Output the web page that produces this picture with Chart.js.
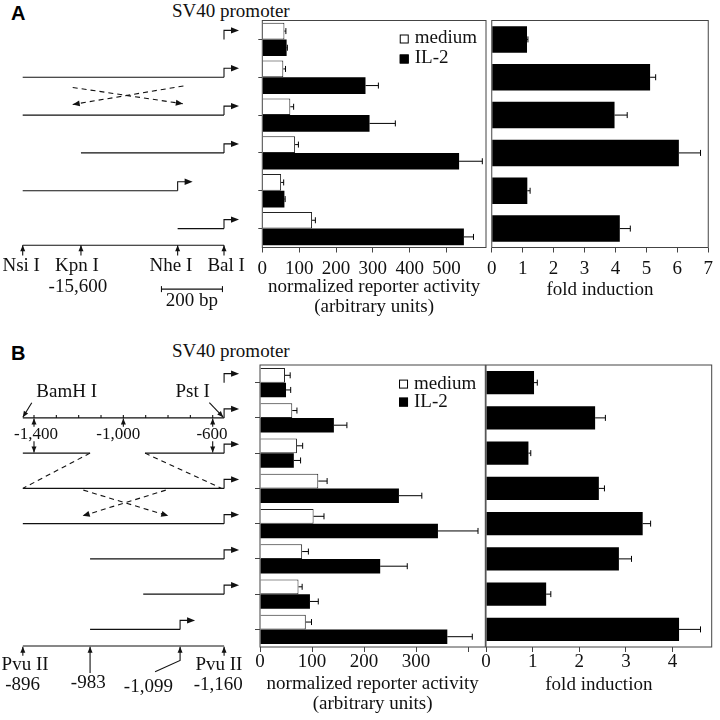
<!DOCTYPE html>
<html lang="en">
<head>
<meta charset="UTF-8">
<title>SV40 promoter reporter constructs</title>
<script src="https://cdn.jsdelivr.net/npm/chart.js"></script>
<style>
  body { margin: 0; background: #fff; }
  #fig { position: relative; width: 720px; height: 720px; overflow: hidden; }
  #fig canvas { position: absolute; }
  .lbl { position: absolute; font: 19px/19px "Liberation Serif", serif; color: #111; white-space: nowrap; }
  .panel { position: absolute; font: bold 20px/20px "Liberation Sans", Arial, sans-serif; color: #000; }
</style>
</head>
<body>
<div id="fig">
  <div class="panel" style="left:11px; top:3px">A</div>
  <div class="lbl" style="left:172px; top:1px">SV40 promoter</div>
  <canvas id="mapA" width="258" height="320" style="left:0; top:0"></canvas>
  <canvas id="actA" width="252" height="320" style="left:240px; top:0"></canvas>
  <canvas id="foldA" width="240" height="320" style="left:480px; top:0"></canvas>

  <div class="panel" style="left:11px; top:343px">B</div>
  <div class="lbl" style="left:172px; top:341px">SV40 promoter</div>
  <canvas id="mapB" width="258" height="380" style="left:0; top:340px"></canvas>
  <canvas id="actB" width="252" height="380" style="left:240px; top:340px"></canvas>
  <canvas id="foldB" width="240" height="380" style="left:480px; top:340px"></canvas>
</div>

<script>
const SERIF = '"Liberation Serif", "Times New Roman", serif';
const INK = '#111';
const FRAME = '#444';

// ---- panel A values ----
const rowsA = ['A1', 'A2', 'A3', 'A4', 'A5', 'A6'];
const mediumA = [60, 57, 76, 89, 51, 135];
const mediumErrA = [4, 6, 9, 9, 7, 9];
const il2A = [66, 280, 291, 534, 60, 547];
const il2ErrA = [2, 35, 70, 63, 2, 26];
const foldA = [1.14, 5.12, 3.97, 6.05, 1.15, 4.14];
const foldErrA = [0.03, 0.18, 0.41, 0.70, 0.09, 0.34];
const actTicksA = [0, 100, 200, 300, 400, 500];
const actLabelsA = ['0', '100', '200', '300', '400', '500'];
const foldTicksA = [0, 1, 2, 3, 4, 5, 6, 7];
const actMaxA = 607;
const foldMaxA = 7;

// ---- panel B values ----
const rowsB = ['B1', 'B2', 'B3', 'B4', 'B5', 'B6', 'B7', 'B8'];
const mediumB = [48, 62, 71, 112, 103, 81, 74, 88];
const mediumErrB = [10, 9, 11, 17, 20, 12, 7, 11];
const il2B = [50, 142, 65, 267, 342, 231, 96, 360];
const il2ErrB = [9, 25, 13, 44, 77, 52, 16, 48];
const foldB = [1.03, 2.34, 0.91, 2.42, 3.36, 2.85, 1.29, 4.14];
const foldErrB = [0.07, 0.22, 0.05, 0.12, 0.17, 0.27, 0.10, 0.46];
const actTicksB = [0, 100, 200, 300, 400];
const actLabelsB = ['0', '100', '200', '300', ''];
const foldTicksB = [0, 1, 2, 3, 4];
const actMaxB = 433;
const foldMaxB = 4.84;

// ---- construct maps (bp, row) ----
// A: bp relative to Bal I
const constructsA = [
  { segs: [], prom: 0 },
  { segs: [[-660, 0]], prom: 0 },
  { segs: [[-660, 0]], prom: 0 },
  { segs: [[-469, 0]], prom: 0 },
  { segs: [[-660, -152]], prom: -152 },
  { segs: [[-152, 0]], prom: 0 }
];
const inversionA = [[[-496, 2.27], [-135, 2.70]], [[-133, 2.23], [-496, 2.72]]];
const mapRowA = 6.44;
const sitesA = [
  { pos: -660, name: 'Nsi I', at: -665 },
  { pos: -469, name: 'Kpn I', at: -482, sub: '-15,600', subAt: -479 },
  { pos: -152, name: 'Nhe I', at: -174 },
  { pos: 0, name: 'Bal I', at: 7 }
];
const scaleBarA = [-205, -5];

// B: bp on the upstream map
const constructsB = [
  { segs: [], prom: -549 },
  { segs: [[-1450, -549]], prom: -549 },
  { segs: [[-1450, -1149], [-903, -549]], prom: -549 },
  { segs: [[-1450, -549]], prom: -549 },
  { segs: [[-1450, -549]], prom: -549 },
  { segs: [[-1149, -549]], prom: -549 },
  { segs: [[-911, -549]], prom: -549 },
  { segs: [[-1149, -746]], prom: -746 }
];
const deletionB = [[[-1149, 3], [-1450, 4]], [[-903, 3], [-560, 4]]];
const inversionB = [[[-1179, 4.05], [-799, 4.78]], [[-810, 4.05], [-1182, 4.78]]];
const minorTicksB = [-1400, -1300, -1200, -1100, -1000, -900, -800, -700, -600];
const majorTicksB = [
  { pos: -1400, label: '-1,400', at: -1391, down: true },
  { pos: -1000, label: '-1,000', at: -1023, down: false },
  { pos: -600, label: '-600', at: -603, down: true }
];
const mapRowB = 8.47;
const sitesB = [
  { pos: -1450, name: 'Pvu II', at: -1440, sub: '-896', subAt: -1451 },
  { pos: -1149, sub: '-983', subAt: -1157 },
  { pos: -746, sub: '-1,099', subAt: -888 },
  { pos: -549, name: 'Pvu II', at: -572, sub: '-1,160', subAt: -575 }
];

function arrowHead(ctx, a, b, len, half) {
  const t = Math.atan2(b[1] - a[1], b[0] - a[0]);
  const c = Math.cos(t), s = Math.sin(t);
  ctx.beginPath();
  ctx.moveTo(b[0], b[1]);
  ctx.lineTo(b[0] - len * c + half * s, b[1] - len * s - half * c);
  ctx.lineTo(b[0] - len * c - half * s, b[1] - len * s + half * c);
  ctx.closePath();
  ctx.fill();
}

function diagramPlugin(spec) {
  return {
    id: 'diagram',
    afterDatasetsDraw(chart) {
      const { ctx, scales: { x, y } } = chart;
      const P = p => [x.getPixelForValue(p[0]), y.getPixelForValue(p[1])];
      ctx.save();
      ctx.fillStyle = INK;
      ctx.strokeStyle = INK;
      ctx.lineWidth = 1.1;
      spec.lines.forEach(l => {
        if (!l.head) return;
        const n = l.pts.length;
        arrowHead(ctx, P(l.pts[n - 2]), P(l.pts[n - 1]), l.dash ? 7 : 6, l.dash ? 3 : 2.5);
      });
      spec.caps.forEach(p => {
        const [cx, cy] = P(p);
        ctx.beginPath(); ctx.moveTo(cx, cy - 3); ctx.lineTo(cx, cy + 3); ctx.stroke();
      });
      spec.ticks.forEach(p => {
        const [tx, ty] = P(p);
        ctx.beginPath(); ctx.moveTo(tx, ty); ctx.lineTo(tx, ty - 3); ctx.stroke();
      });
      spec.promoters.forEach(p => {
        const [px, py] = P(p);
        ctx.beginPath(); ctx.moveTo(px, py); ctx.lineTo(px, py - 9); ctx.lineTo(px + 8, py - 9); ctx.stroke();
        arrowHead(ctx, [px, py - 9], [px + 15, py - 9], 8, 3.2);
      });
      ctx.textAlign = 'center';
      ctx.textBaseline = 'middle';
      spec.texts.forEach(t => {
        const [tx, ty] = P([t.x, t.y]);
        ctx.font = t.size + 'px ' + SERIF;
        ctx.fillText(t.t, tx, ty);
      });
      ctx.restore();
    }
  };
}

function emptySpec() {
  return { lines: [], promoters: [], ticks: [], caps: [], texts: [] };
}

function addConstructs(s, list) {
  list.forEach((c, i) => {
    c.segs.forEach(g => s.lines.push({ pts: [[g[0], i + 1], [g[1], i + 1]] }));
    s.promoters.push([c.prom, i + 1]);
  });
}

function buildMapA() {
  const s = emptySpec();
  addConstructs(s, constructsA);
  inversionA.forEach(v => s.lines.push({ pts: v, dash: true, head: true }));
  s.lines.push({ pts: [[sitesA[0].pos, mapRowA], [sitesA[sitesA.length - 1].pos, mapRowA]] });
  sitesA.forEach(t => {
    s.lines.push({ pts: [[t.pos, mapRowA + 0.27], [t.pos, mapRowA]], head: true });
    s.texts.push({ t: t.name, x: t.at, y: mapRowA + 0.55, size: 19 });
    if (t.sub) s.texts.push({ t: t.sub, x: t.subAt, y: mapRowA + 1.11, size: 19 });
  });
  const barRow = mapRowA + 1.16;
  s.lines.push({ pts: [[scaleBarA[0], barRow], [scaleBarA[1], barRow]] });
  s.caps.push([scaleBarA[0], barRow], [scaleBarA[1], barRow]);
  s.texts.push({ t: '200 bp', x: (scaleBarA[0] + scaleBarA[1]) / 2, y: barRow + 0.32, size: 19 });
  return s;
}

function buildMapB() {
  const s = emptySpec();
  addConstructs(s, constructsB);
  deletionB.forEach(v => s.lines.push({ pts: v, dash: true }));
  inversionB.forEach(v => s.lines.push({ pts: v, dash: true, head: true }));
  // upstream map on row 2
  minorTicksB.forEach(p => s.ticks.push([p, 2]));
  majorTicksB.forEach(t => {
    s.lines.push({ pts: [[t.pos, 2.25], [t.pos, 2.02]], head: true });
    s.texts.push({ t: t.label, x: t.at, y: 2.46, size: 17 });
    if (t.down) s.lines.push({ pts: [[t.pos, 2.66], [t.pos, 2.98]], head: true });
  });
  s.texts.push({ t: 'BamH I', x: -1254, y: 1.27, size: 19 });
  s.texts.push({ t: 'Pst I', x: -690, y: 1.27, size: 19 });
  s.lines.push({ pts: [[-1410, 1.57], [-1450, 1.98]], head: true });
  s.lines.push({ pts: [[-615, 1.57], [-553, 1.98]], head: true });
  // Pvu II fragment map at the bottom
  s.lines.push({ pts: [[sitesB[0].pos, mapRowB], [sitesB[sitesB.length - 1].pos, mapRowB]] });
  s.lines.push({ pts: [[-1450, mapRowB + 0.28], [-1450, mapRowB + 0.02]], head: true });
  s.lines.push({ pts: [[-549, mapRowB + 0.28], [-549, mapRowB + 0.02]], head: true });
  s.lines.push({ pts: [[-1149, mapRowB + 0.77], [-1149, mapRowB + 0.02]], head: true });
  s.lines.push({ pts: [[-858, mapRowB + 0.73], [-746, mapRowB + 0.41], [-746, mapRowB + 0.02]], head: true });
  sitesB.forEach(t => {
    if (t.name) s.texts.push({ t: t.name, x: t.at, y: mapRowB + 0.54, size: 19 });
  });
  s.texts.push({ t: sitesB[0].sub, x: sitesB[0].subAt, y: mapRowB + 1.11, size: 19 });
  s.texts.push({ t: sitesB[1].sub, x: sitesB[1].subAt, y: mapRowB + 1.04, size: 19 });
  s.texts.push({ t: sitesB[2].sub, x: sitesB[2].subAt, y: mapRowB + 1.16, size: 19 });
  s.texts.push({ t: sitesB[3].sub, x: sitesB[3].subAt, y: mapRowB + 1.11, size: 19 });
  return s;
}

function mapChart(id, spec, rows, geo) {
  const datasets = spec.lines.map(l => ({
    data: l.pts.map(p => ({ x: p[0], y: p[1] })),
    showLine: true,
    pointRadius: 0,
    borderColor: INK,
    borderWidth: 1.1,
    borderDash: l.dash ? [5, 4] : [],
    clip: false
  }));
  return new Chart(document.getElementById(id), {
    type: 'scatter',
    data: { datasets },
    options: {
      responsive: false, animation: false, events: [],
      layout: { padding: geo.pad },
      scales: {
        x: { type: 'linear', display: false, min: geo.xmin, max: geo.xmax },
        y: { type: 'linear', display: false, min: 0.5, max: rows + 0.5, reverse: true }
      },
      plugins: { legend: { display: false }, tooltip: { enabled: false } }
    },
    plugins: [diagramPlugin(spec)]
  });
}

// box round the plot area
const framePlugin = {
  id: 'frame',
  afterDraw(chart) {
    const { ctx, chartArea: a } = chart;
    ctx.save();
    ctx.strokeStyle = FRAME;
    ctx.lineWidth = 1;
    ctx.strokeRect(a.left, a.top, a.right - a.left, a.bottom - a.top);
    ctx.restore();
  }
};

const errorBarPlugin = {
  id: 'errorBars',
  afterDatasetsDraw(chart) {
    const { ctx, scales: { x } } = chart;
    ctx.save();
    ctx.strokeStyle = '#000';
    ctx.lineWidth = 1;
    chart.data.datasets.forEach((ds, di) => {
      chart.getDatasetMeta(di).data.forEach((bar, i) => {
        const { x: bx, y: by } = bar.getProps(['x', 'y'], true);
        const ex = x.getPixelForValue(ds.data[i] + ds.errors[i]);
        ctx.beginPath();
        ctx.moveTo(bx, by); ctx.lineTo(ex, by);
        ctx.moveTo(ex, by - 3); ctx.lineTo(ex, by + 3);
        ctx.stroke();
      });
    });
    ctx.restore();
  }
};

const keyPlugin = {
  id: 'key',
  afterDraw(chart, args, opts) {
    const { ctx, chartArea: a } = chart;
    ctx.save();
    ctx.font = '19px ' + SERIF;
    ctx.textBaseline = 'middle';
    ctx.textAlign = 'left';
    const w = Math.max(...chart.data.datasets.map(d => ctx.measureText(d.label).width));
    const tx = a.right - 9 - w;
    chart.data.datasets.forEach((d, i) => {
      const yy = a.top + opts.first + i * opts.step;
      ctx.fillStyle = d.backgroundColor;
      ctx.fillRect(tx - 15, yy - 4, 9, 9);
      ctx.strokeStyle = '#000';
      ctx.lineWidth = 1;
      ctx.strokeRect(tx - 14.5, yy - 3.5, 8, 8);
      ctx.fillStyle = INK;
      ctx.fillText(d.label, tx, yy);
    });
    ctx.restore();
  }
};

function xAxis(max, ticks, labels, title, geo) {
  return {
    min: 0, max: max,
    afterBuildTicks: s => { s.ticks = ticks.map(v => ({ value: v })); },
    afterFit: s => { s.height = geo.axisH; },
    grid: { drawOnChartArea: false, tickLength: 5, color: FRAME },
    border: { display: false },
    ticks: {
      autoSkip: false, maxRotation: 0, padding: geo.tickPad, color: INK,
      font: { family: SERIF, size: 19, lineHeight: 1.05 },
      callback: (v, i) => labels[i]
    },
    title: {
      display: true, text: title, color: INK,
      font: { family: SERIF, size: 19, lineHeight: 1.05 },
      padding: { top: 0, bottom: geo.titlePad }
    }
  };
}

function activityChart(id, rows, medium, mediumErr, il2, il2Err, ticks, labels, max, geo) {
  return new Chart(document.getElementById(id), {
    type: 'bar',
    data: {
      labels: rows,
      datasets: [
        { label: 'medium', data: medium, errors: mediumErr, backgroundColor: '#fff',
          borderColor: '#222', borderWidth: 1, categoryPercentage: geo.cat, barPercentage: 1 },
        { label: 'IL-2', data: il2, errors: il2Err, backgroundColor: '#000',
          borderWidth: 0, categoryPercentage: geo.cat, barPercentage: 1 }
      ]
    },
    options: {
      indexAxis: 'y', responsive: false, animation: false, events: [],
      layout: { padding: { top: geo.top, right: geo.right, left: 0, bottom: 0 } },
      scales: {
        x: xAxis(max, ticks, labels, ['normalized reporter activity', '(arbitrary units)'], geo),
        y: {
          afterFit: s => { s.width = geo.yw; },
          grid: { drawOnChartArea: false, tickLength: geo.yTick, offset: false, color: FRAME },
          border: { display: false },
          ticks: { display: false }
        }
      },
      plugins: { legend: { display: false }, tooltip: { enabled: false }, key: geo.key }
    },
    plugins: [errorBarPlugin, framePlugin, keyPlugin]
  });
}

function foldChart(id, rows, fold, foldErr, ticks, max, geo) {
  return new Chart(document.getElementById(id), {
    type: 'bar',
    data: {
      labels: rows,
      datasets: [{ label: 'fold induction', data: fold, errors: foldErr, backgroundColor: '#000',
        borderWidth: 0, categoryPercentage: 1, barPercentage: geo.bar }]
    },
    options: {
      indexAxis: 'y', responsive: false, animation: false, events: [],
      layout: { padding: { top: geo.top, right: geo.right, left: geo.left, bottom: 0 } },
      scales: {
        x: xAxis(max, ticks, ticks.map(String), 'fold induction', geo),
        y: { display: false }
      },
      plugins: { legend: { display: false }, tooltip: { enabled: false } }
    },
    plugins: [errorBarPlugin, framePlugin]
  });
}

// panel A
mapChart('mapA', buildMapA(), rowsA.length,
  { pad: { left: 22.7, right: 34, top: 20.5, bottom: 72.5 }, xmin: -660, xmax: 0 });
activityChart('actA', rowsA, mediumA, mediumErrA, il2A, il2ErrA, actTicksA, actLabelsA, actMaxA,
  { top: 20.5, right: 6, yw: 22.3, yTick: 4, axisH: 72.5, tickPad: 7, titlePad: 3.4, cat: 0.88,
    key: { first: 18, step: 20 } });
foldChart('foldA', rowsA, foldA, foldErrA, foldTicksA, foldMaxA,
  { top: 20.5, right: 7.5, left: 6.7, axisH: 72.5, tickPad: 7, titlePad: 20.4, bar: 0.7 });

// panel B
mapChart('mapB', buildMapB(), rowsB.length,
  { pad: { left: 22.7, right: 34, top: 25, bottom: 73 }, xmin: -1450.6, xmax: -549.4 });
activityChart('actB', rowsB, mediumB, mediumErrB, il2B, il2ErrB, actTicksB, actLabelsB, actMaxB,
  { top: 25, right: 6.7, yw: 20, yTick: 5, axisH: 73, tickPad: 0, titlePad: 6, cat: 0.83,
    key: { first: 18.6, step: 18 } });
foldChart('foldB', rowsB, foldB, foldErrB, foldTicksB, foldMaxB,
  { top: 25, right: 8.3, left: 6, axisH: 73, tickPad: 0, titlePad: 25, bar: 0.66 });
</script>
</body>
</html>
